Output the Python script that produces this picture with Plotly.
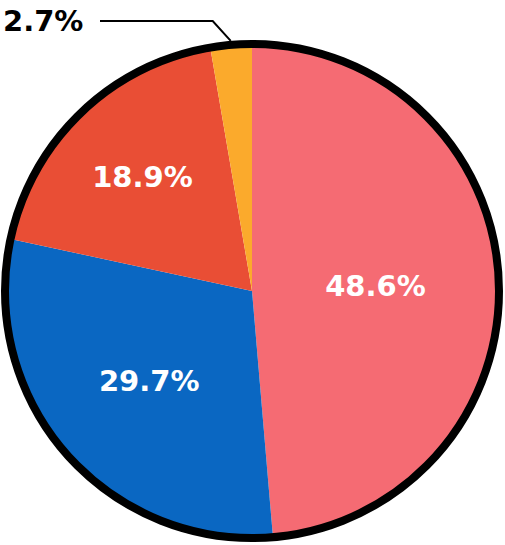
import math
import plotly.graph_objects as go

# ---- data ----
labels = ["A", "B", "C", "D"]
values = [48.6, 29.7, 18.9, 2.7]
colors = ["#F56B73", "#0A67C2", "#E94E35", "#FBAA2C"]
inside_text = ["48.6%", "29.7%", "18.9%", ""]
outside_label = "2.7%"

# ---- layout geometry (pixels) ----
W, H = 505, 545
cx, cy, R = 252, 291, 247
dom_x = [(cx - R) / W, (cx + R) / W]
dom_y = [1 - (cy + R) / H, 1 - (cy - R) / H]

FONT = "DejaVu Sans"
FSIZE = 29

fig = go.Figure()
fig.add_trace(go.Pie(
    labels=labels, values=values, sort=False, direction="clockwise", rotation=0,
    marker=dict(colors=colors, line=dict(width=0)),
    text=inside_text, textinfo="text", textposition="inside",
    insidetextorientation="horizontal",
    insidetextfont=dict(family=FONT, size=FSIZE, color="white", weight="bold"),
    domain=dict(x=dom_x, y=dom_y), hoverinfo="none", showlegend=False,
))
# black outline ring
fig.add_trace(go.Pie(
    values=[1], sort=False, marker=dict(colors=["rgba(0,0,0,0)"], line=dict(color="black", width=8)),
    textinfo="none", domain=dict(x=dom_x, y=dom_y), hoverinfo="none", showlegend=False,
))

# leader line for the small slice, from its mid angle
total = sum(values)
start = sum(values[:3]) / total * 360
mid = math.radians(start + values[3] / total * 360 / 2)
ex = cx + (R + 4) * math.sin(mid)
ey = cy - (R + 4) * math.cos(mid)
ly = 21
px = lambda x: x / W
py = lambda y: 1 - y / H
path = f"M {px(100)},{py(ly)} L {px(ex - 18)},{py(ly)} L {px(ex)},{py(ey)}"
fig.add_shape(type="path", path=path, xref="paper", yref="paper",
              line=dict(color="black", width=2))
fig.add_annotation(x=px(1), y=py(ly), xref="paper", yref="paper", text=outside_label,
                   showarrow=False, xanchor="left", yanchor="middle",
                   font=dict(family=FONT, size=FSIZE, color="black", weight="bold"))

fig.update_layout(width=W, height=H, margin=dict(l=0, r=0, t=0, b=0),
                  paper_bgcolor="white", plot_bgcolor="white")
fig.write_html("out.html", config={"displayModeBar": False},
               post_script="document.body.style.margin='0';")
